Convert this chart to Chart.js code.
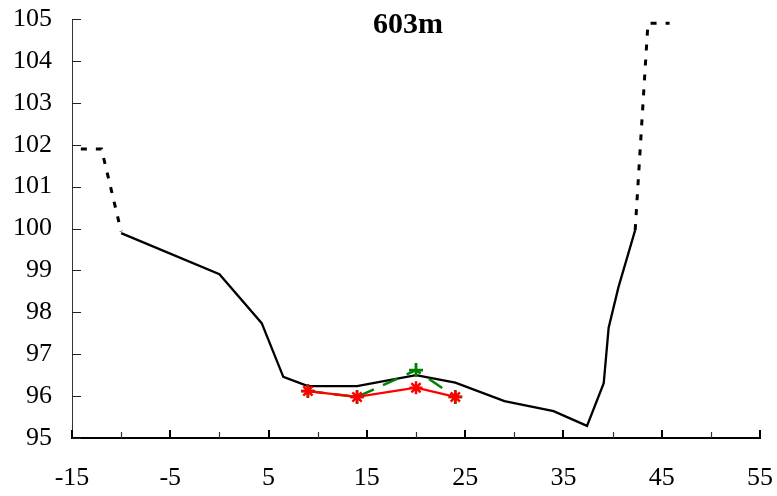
<!DOCTYPE html>
<html>
<head>
<meta charset="utf-8">
<title>603m</title>
<script src="https://cdn.jsdelivr.net/npm/chart.js@4/dist/chart.umd.min.js"></script>
<style>
  html, body { margin: 0; padding: 0; background: #fff; }
  #wrap { width: 777px; height: 496px; }
</style>
</head>
<body>
<div id="wrap"><canvas id="c" width="777" height="496"></canvas></div>
<script>
// Cross-section at 603 m: bed profile, banks, and two measured water surfaces
const bedX = [-10, 0, 4.3, 6.5, 9, 14, 20, 24, 29, 34, 37.4, 39.1, 39.6, 40.6, 42.3];
const bedY = [99.89, 98.91, 97.74, 96.46, 96.24, 96.24, 96.5, 96.32, 95.88, 95.64, 95.29, 96.31, 97.63, 98.6, 99.96];

const leftBankX = [-14.1, -12, -10];
const leftBankY = [101.9, 101.9, 99.93];
const rightBankX = [42.3, 43.6, 45.8];
const rightBankY = [99.96, 104.9, 104.9];

const surfaceX = [9, 14, 20, 24];
const greenY = [96.12, 95.98, 96.62, 95.98];
const redY = [96.12, 95.98, 96.2, 95.98];

const xTickLabels = [-15, -5, 5, 15, 25, 35, 45, 55];
const xMinorTicks = [-10, 0, 10, 20, 30, 40, 50];
const yTickLabels = [95, 96, 97, 98, 99, 100, 101, 102, 103, 104, 105];

const titleText = '603m';

const pts = (xs, ys) => xs.map((x, i) => ({ x: x, y: ys[i] }));
const serif = '"Liberation Serif", "Times New Roman", serif';

// inward tick marks and the title, drawn on top of the plot
const decorations = {
  id: 'decorations',
  afterDraw(chart) {
    const ctx = chart.ctx;
    const xs = chart.scales.x, ys = chart.scales.y;
    const area = chart.chartArea;
    ctx.save();
    // y ticks point right, into the plot
    ctx.strokeStyle = '#222';
    ctx.lineWidth = 1;
    yTickLabels.forEach(v => {
      const py = Math.round(ys.getPixelForValue(v)) + 0.5;
      ctx.beginPath();
      ctx.moveTo(area.left, py);
      ctx.lineTo(area.left + 9, py);
      ctx.stroke();
    });
    // x ticks point up: longer where labelled
    const bottom = area.bottom;
    ctx.strokeStyle = '#000';
    ctx.lineWidth = 2;
    xTickLabels.forEach(v => {
      const px = Math.round(xs.getPixelForValue(v));
      ctx.beginPath();
      ctx.moveTo(px, bottom);
      ctx.lineTo(px, bottom - 8);
      ctx.stroke();
    });
    ctx.strokeStyle = '#333';
    ctx.lineWidth = 1.2;
    xMinorTicks.forEach(v => {
      const px = Math.round(xs.getPixelForValue(v)) + 0.5;
      ctx.beginPath();
      ctx.moveTo(px, bottom);
      ctx.lineTo(px, bottom - 6);
      ctx.stroke();
    });
    // title
    ctx.fillStyle = '#000';
    ctx.font = 'bold 30px ' + serif;
    ctx.textAlign = 'center';
    ctx.textBaseline = 'alphabetic';
    ctx.fillText(titleText, 408, 33);
    ctx.restore();
  }
};

new Chart(document.getElementById('c'), {
  type: 'scatter',
  data: {
    datasets: [
      {
        data: pts(surfaceX, redY),
        showLine: true,
        borderColor: '#ff0000',
        borderWidth: 2.2,
        pointStyle: 'star',
        pointRadius: 6.5,
        pointBorderColor: '#ff0000',
        pointBackgroundColor: '#ff0000',
        pointBorderWidth: 2.5
      },
      {
        data: pts(surfaceX, greenY),
        showLine: true,
        borderColor: '#008000',
        borderWidth: 2.5,
        borderDash: [16, 10],
        pointStyle: 'cross',
        pointRadius: 7,
        pointBorderColor: '#008000',
        pointBorderWidth: 2.8
      },
      {
        data: pts(bedX, bedY),
        showLine: true,
        borderColor: '#000',
        borderWidth: 2.3,
        pointRadius: 0
      },
      {
        data: pts(leftBankX, leftBankY),
        showLine: true,
        borderColor: '#000',
        borderWidth: 3,
        borderDash: [6, 9],
        pointRadius: 0
      },
      {
        data: pts(rightBankX, rightBankY),
        showLine: true,
        borderColor: '#000',
        borderWidth: 3,
        borderDash: [6, 9],
        pointRadius: 0
      }
    ]
  },
  options: {
    responsive: false,
    animation: false,
    layout: { padding: { top: 19, right: 17, bottom: 0, left: 0 } },
    plugins: {
      legend: { display: false },
      tooltip: { enabled: false },
      title: { display: false }
    },
    scales: {
      x: {
        type: 'linear',
        min: -15,
        max: 55,
        afterBuildTicks: s => { s.ticks = xTickLabels.map(v => ({ value: v })); },
        afterFit: s => {
          s.height = 58;
          s.paddingLeft = 0; s.paddingRight = 0;
        },
        grid: { display: false, drawTicks: false },
        border: { display: true, color: '#000', width: 2 },
        ticks: {
          color: '#000',
          padding: 25,
          maxRotation: 0,
          autoSkip: false,
          font: { family: serif, size: 26 }
        }
      },
      y: {
        type: 'linear',
        min: 95,
        max: 105,
        afterBuildTicks: s => { s.ticks = yTickLabels.map(v => ({ value: v })); },
        afterFit: s => {
          s.width = 72;
          s.paddingTop = 0; s.paddingBottom = 0;
        },
        grid: { display: false, drawTicks: false },
        border: { display: true, color: '#333', width: 1 },
        ticks: {
          color: '#000',
          padding: 20,
          autoSkip: false,
          font: { family: serif, size: 26 }
        }
      }
    }
  },
  plugins: [decorations]
});
</script>
</body>
</html>
